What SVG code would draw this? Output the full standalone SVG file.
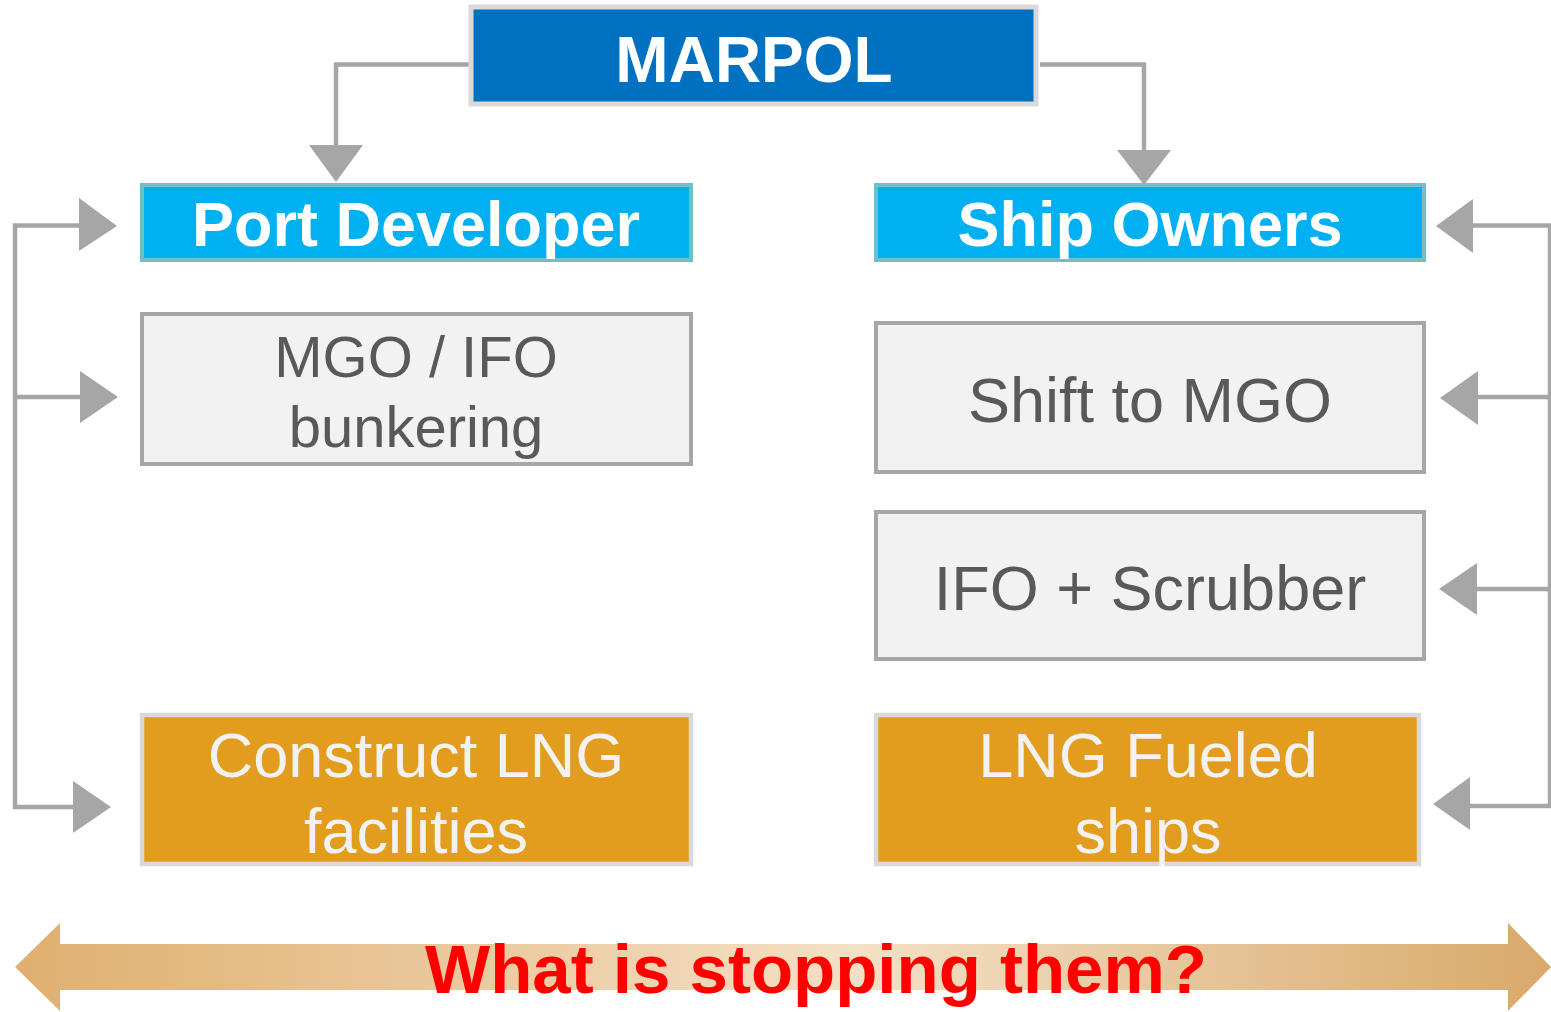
<svg xmlns="http://www.w3.org/2000/svg" width="1551" height="1012" viewBox="0 0 1551 1012">
<style>
.conn{fill:none;stroke:#A6A6A6;stroke-width:4.5}
.head{fill:#A6A6A6}
.t{font-family:"Liberation Sans",Arial,sans-serif;text-anchor:middle}
.b{font-weight:bold;fill:#FFFFFF}
.g{fill:#595959}
.w{fill:#F2F2F2}
.top{fill:#0070C0;stroke:#D9D9D9;stroke-width:5}
.blue{fill:#00B0F0;stroke:#71BFC5;stroke-width:4}
.grey{fill:#F2F2F2;stroke:#A6A6A6;stroke-width:4}
.orange{fill:#E39D1E;stroke:#D9D9D9;stroke-width:4.5}
</style>
<defs>
<linearGradient id="band" x1="0" y1="0" x2="1" y2="0">
<stop offset="0" stop-color="#E0AF70"/>
<stop offset="0.55" stop-color="#F3E0C6"/>
<stop offset="1" stop-color="#D9A96B"/>
</linearGradient>
</defs>
<g id="connectors">
<polyline class="conn" points="469,64.5 336,64.5 336,147"/>
<polygon class="head" points="309,145 363,145 336,182"/>
<polyline class="conn" points="1040,64.5 1144,64.5 1144,152"/>
<polygon class="head" points="1117,150 1171,150 1144,185"/>
<polyline class="conn" points="82,225.5 15,225.5 15,807 75,807"/>
<line class="conn" x1="15" y1="397" x2="82" y2="397"/>
<polygon class="head" points="79,198 79,251 117,226"/>
<polygon class="head" points="80,371 80,423 118,397"/>
<polygon class="head" points="73,781 73,833 111,807"/>
<polyline class="conn" points="1471,225.5 1550,225.5 1550,806 1468,806"/>
<line class="conn" x1="1476" y1="397" x2="1550" y2="397"/>
<line class="conn" x1="1475" y1="589" x2="1550" y2="589"/>
<polygon class="head" points="1473,199 1473,253 1436,226"/>
<polygon class="head" points="1478,371 1478,425 1440,398"/>
<polygon class="head" points="1477,563 1477,615 1439,589"/>
<polygon class="head" points="1470,777 1470,830 1433,804"/>
</g>
<g id="marpol">
<rect class="top" x="471" y="7" width="565" height="97"/>
<text class="t b" x="754" y="82" font-size="64">MARPOL</text>
</g>
<g id="port-developer">
<rect class="blue" x="142" y="185" width="549" height="75"/>
<text class="t b" x="416" y="246" font-size="63">Port Developer</text>
</g>
<g id="ship-owners">
<rect class="blue" x="876" y="185" width="548" height="75"/>
<text class="t b" x="1150" y="246" font-size="63">Ship Owners</text>
</g>
<g id="mgo-ifo">
<rect class="grey" x="142" y="314" width="549" height="150"/>
<text class="t g" x="416" y="377" font-size="58">MGO / IFO</text>
<text class="t g" x="416" y="447" font-size="58">bunkering</text>
</g>
<g id="shift-mgo">
<rect class="grey" x="876" y="323" width="548" height="149"/>
<text class="t g" x="1150" y="422" font-size="63">Shift to MGO</text>
</g>
<g id="ifo-scrubber">
<rect class="grey" x="876" y="512" width="548" height="147"/>
<text class="t g" x="1150" y="610" font-size="63">IFO + Scrubber</text>
</g>
<g id="construct-lng">
<rect class="orange" x="142" y="715" width="549" height="149"/>
<text class="t w" x="416" y="777" font-size="63">Construct LNG</text>
<text class="t w" x="416" y="853" font-size="63">facilities</text>
</g>
<g id="lng-ships">
<rect class="orange" x="876" y="715" width="543" height="149"/>
<text class="t w" x="1148" y="777" font-size="63">LNG Fueled</text>
<text class="t w" x="1148" y="853" font-size="63">ships</text>
</g>
<g id="stopping">
<polygon fill="url(#band)" points="15,967 60,923 60,944 1508,944 1508,923 1551,967 1508,1011 1508,990 60,990 60,1011"/>
<text class="t" x="816" y="993" font-size="69" font-weight="bold" fill="#FF0000">What is stopping them?</text>
</g>
</svg>
